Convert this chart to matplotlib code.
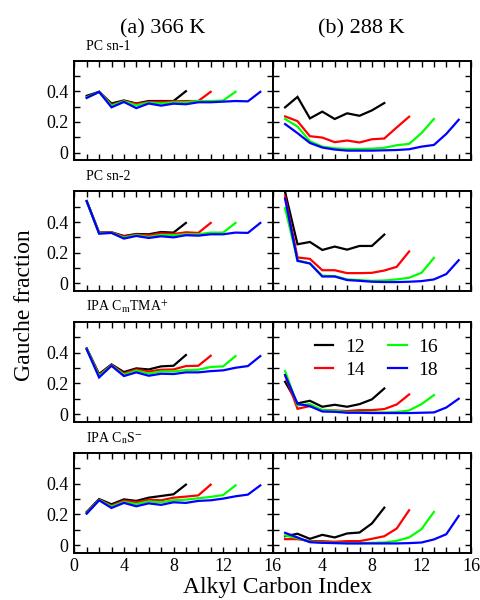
import matplotlib
matplotlib.use("Agg")
import matplotlib.pyplot as plt
from matplotlib.ticker import MultipleLocator, FixedLocator, NullFormatter

plt.rcParams['font.family'] = ['Liberation Serif', 'DejaVu Serif']
plt.rcParams['mathtext.fontset'] = 'stix'

chains = ["12", "14", "16", "18"]
colors = ["#000000", "#ff0000", "#00ff00", "#0000ff"]
panel_labels = ["PC sn-1", "PC sn-2", r"IPA C$_{\mathrm{m}}$TMA$^{+}$", r"IPA C$_{\mathrm{n}}$S$^{-}$"]
col_titles = ["(a) 366 K", "(b) 288 K"]

# ---- (a) 366 K ----
hot_sn1_12 = [0.37, 0.396, 0.32, 0.34, 0.32, 0.336, 0.336, 0.336, 0.40]
hot_sn1_14 = [0.36, 0.395, 0.31, 0.336, 0.317, 0.33, 0.33, 0.334, 0.336, 0.336, 0.396]
hot_sn1_16 = [0.36, 0.395, 0.306, 0.334, 0.308, 0.326, 0.32, 0.328, 0.328, 0.336, 0.336, 0.339, 0.396]
hot_sn1_18 = [0.356, 0.396, 0.295, 0.33, 0.29, 0.32, 0.306, 0.319, 0.315, 0.328, 0.328, 0.332, 0.336, 0.334, 0.396]

hot_sn2_12 = [0.536, 0.331, 0.333, 0.309, 0.322, 0.32, 0.335, 0.331, 0.394]
hot_sn2_14 = [0.536, 0.33, 0.332, 0.305, 0.318, 0.314, 0.326, 0.322, 0.333, 0.329, 0.394]
hot_sn2_16 = [0.536, 0.327, 0.33, 0.298, 0.314, 0.303, 0.316, 0.314, 0.32, 0.32, 0.331, 0.331, 0.394]
hot_sn2_18 = [0.536, 0.324, 0.329, 0.292, 0.309, 0.296, 0.307, 0.30, 0.314, 0.311, 0.32, 0.32, 0.331, 0.329, 0.394]

hot_tma_12 = [0.428, 0.261, 0.324, 0.274, 0.298, 0.291, 0.311, 0.315, 0.385]
hot_tma_14 = [0.425, 0.254, 0.32, 0.265, 0.291, 0.278, 0.289, 0.291, 0.313, 0.315, 0.38]
hot_tma_16 = [0.424, 0.248, 0.317, 0.257, 0.283, 0.265, 0.278, 0.278, 0.287, 0.289, 0.307, 0.311, 0.378]
hot_tma_18 = [0.422, 0.239, 0.315, 0.248, 0.272, 0.25, 0.263, 0.261, 0.272, 0.272, 0.28, 0.285, 0.302, 0.313, 0.378]

hot_s_12 = [0.216, 0.30, 0.266, 0.298, 0.288, 0.309, 0.32, 0.331, 0.394]
hot_s_14 = [0.21, 0.296, 0.257, 0.29, 0.279, 0.296, 0.292, 0.309, 0.316, 0.324, 0.394]
hot_s_16 = [0.208, 0.294, 0.251, 0.281, 0.268, 0.285, 0.279, 0.292, 0.296, 0.305, 0.314, 0.326, 0.389]
hot_s_18 = [0.205, 0.292, 0.242, 0.275, 0.253, 0.272, 0.262, 0.279, 0.275, 0.288, 0.292, 0.303, 0.318, 0.329, 0.389]

# ---- (b) 288 K ----
cold_sn1_12 = [0.295, 0.363, 0.223, 0.267, 0.219, 0.256, 0.24, 0.275, 0.323]
cold_sn1_14 = [0.236, 0.205, 0.107, 0.098, 0.068, 0.079, 0.066, 0.087, 0.092, 0.164, 0.234]
cold_sn1_16 = [0.219, 0.17, 0.074, 0.039, 0.028, 0.024, 0.024, 0.026, 0.031, 0.048, 0.057, 0.127, 0.219]
cold_sn1_18 = [0.186, 0.127, 0.063, 0.033, 0.02, 0.013, 0.013, 0.013, 0.015, 0.017, 0.022, 0.039, 0.05, 0.122, 0.214]

cold_sn2_12 = [0.595, 0.255, 0.27, 0.218, 0.24, 0.22, 0.244, 0.244, 0.318]
cold_sn2_14 = [0.566, 0.169, 0.16, 0.086, 0.086, 0.067, 0.067, 0.069, 0.084, 0.108, 0.208]
cold_sn2_16 = [0.49, 0.151, 0.13, 0.05, 0.048, 0.026, 0.022, 0.017, 0.019, 0.026, 0.037, 0.069, 0.166]
cold_sn2_18 = [0.551, 0.147, 0.13, 0.045, 0.045, 0.022, 0.017, 0.011, 0.009, 0.009, 0.011, 0.015, 0.026, 0.061, 0.151]

cold_tma_12 = [0.211, 0.07, 0.087, 0.048, 0.061, 0.048, 0.065, 0.096, 0.167]
cold_tma_14 = [0.254, 0.035, 0.052, 0.026, 0.024, 0.02, 0.026, 0.026, 0.033, 0.063, 0.128]
cold_tma_16 = [0.28, 0.057, 0.065, 0.026, 0.022, 0.013, 0.013, 0.011, 0.011, 0.013, 0.024, 0.065, 0.124]
cold_tma_18 = [0.254, 0.067, 0.052, 0.017, 0.015, 0.009, 0.009, 0.007, 0.007, 0.007, 0.007, 0.009, 0.011, 0.043, 0.10]

cold_s_12 = [0.058, 0.074, 0.041, 0.067, 0.05, 0.076, 0.082, 0.141, 0.244]
cold_s_14 = [0.039, 0.039, 0.026, 0.026, 0.022, 0.026, 0.026, 0.041, 0.058, 0.108, 0.227]
cold_s_16 = [0.063, 0.045, 0.022, 0.017, 0.015, 0.013, 0.013, 0.015, 0.017, 0.028, 0.05, 0.104, 0.216]
cold_s_18 = [0.08, 0.05, 0.019, 0.015, 0.013, 0.011, 0.011, 0.011, 0.011, 0.011, 0.013, 0.017, 0.037, 0.071, 0.19]

data = [
    [[hot_sn1_12, hot_sn1_14, hot_sn1_16, hot_sn1_18], [cold_sn1_12, cold_sn1_14, cold_sn1_16, cold_sn1_18]],
    [[hot_sn2_12, hot_sn2_14, hot_sn2_16, hot_sn2_18], [cold_sn2_12, cold_sn2_14, cold_sn2_16, cold_sn2_18]],
    [[hot_tma_12, hot_tma_14, hot_tma_16, hot_tma_18], [cold_tma_12, cold_tma_14, cold_tma_16, cold_tma_18]],
    [[hot_s_12, hot_s_14, hot_s_16, hot_s_18], [cold_s_12, cold_s_14, cold_s_16, cold_s_18]],
]

W, H = 480, 600
fig = plt.figure(figsize=(4.8, 6.0), dpi=100)

x_left = [74.3, 272.7]
ax_w = 198.4
row_tops = [60.5, 191.3, 322.0, 453.0]
ax_h = 99.8

axes = []
for r in range(4):
    row = []
    for c in range(2):
        ax = fig.add_axes([x_left[c] / W, 1 - (row_tops[r] + ax_h) / H, ax_w / W, ax_h / H])
        row.append(ax)
    axes.append(row)

for r in range(4):
    for c in range(2):
        ax = axes[r][c]
        for k, series in enumerate(data[r][c]):
            xs = list(range(1, len(series) + 1))
            ax.plot(xs, series, color=colors[k], lw=1.6, label=chains[k], solid_joinstyle='miter')
        ax.set_xlim(0, 16)
        ax.set_ylim(-0.05, 0.6)
        ax.xaxis.set_major_locator(MultipleLocator(4))
        ax.xaxis.set_minor_locator(MultipleLocator(1))
        ax.yaxis.set_major_locator(FixedLocator([0, 0.2, 0.4]))
        ax.yaxis.set_minor_locator(FixedLocator([0.1, 0.3, 0.5]))
        ax.tick_params(which='both', direction='in', top=True, right=True,
                       length=4, width=1.0, labelsize=13, pad=4)
        for sp in ax.spines.values():
            sp.set_linewidth(1.4)
        if c == 0:
            ax.set_yticklabels(["0", "0.2", "0.4"])
        else:
            ax.yaxis.set_major_formatter(NullFormatter())
        if r < 3:
            ax.xaxis.set_major_formatter(NullFormatter())
        else:
            if c == 0:
                ax.set_xticks([0, 4, 8, 12, 16])
                ax.set_xticklabels(["0", "4", "8", "12", "16"])
            else:
                ax.set_xticks([0, 4, 8, 12, 16])
                ax.set_xticklabels(["", "4", "8", "12", "16"])
    axes[r][0].text(0.06, 1.0 + 11 / ax_h, panel_labels[r], transform=axes[r][0].transAxes,
                    fontsize=10, va='baseline', ha='left')

leg = axes[2][1].legend(ncol=2, loc='center', bbox_to_anchor=(0.523, 0.632), frameon=False,
                        fontsize=14, handlelength=0.95, handletextpad=0.6, columnspacing=1.2,
                        labelspacing=0.25, borderpad=0, borderaxespad=0)

fig.text(162.5 / W, 1 - 33.3 / H, col_titles[0], fontsize=16, ha='center', va='baseline')
fig.text(361.7 / W, 1 - 33.3 / H, col_titles[1], fontsize=16, ha='center', va='baseline')
fig.text(25 / W, 1 - 305 / H, "Gauche fraction", fontsize=17, rotation=90, ha='center', va='center')
fig.text(278 / W, 1 - 593.5 / H, "Alkyl Carbon Index", fontsize=17, ha='center', va='baseline')

fig.savefig("out.png", dpi=100)
